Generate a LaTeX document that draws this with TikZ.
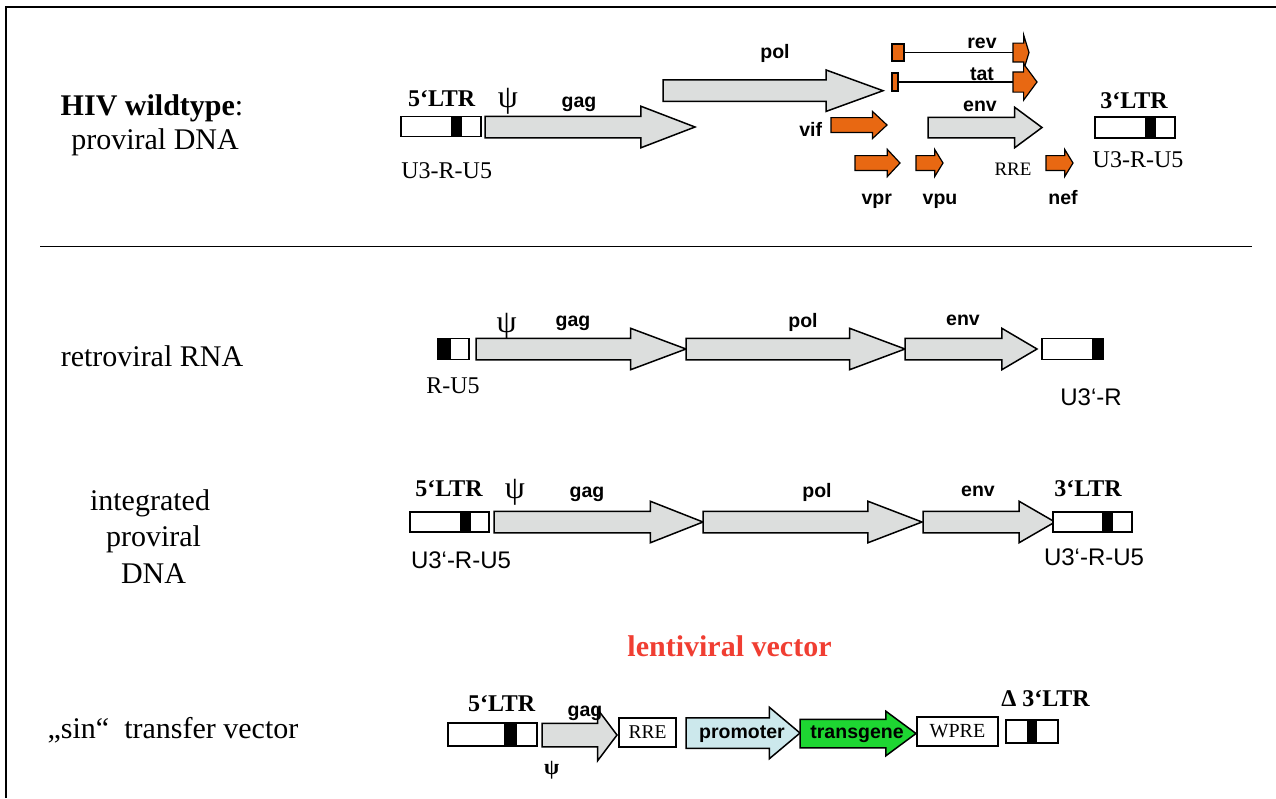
\documentclass[tikz,border=0pt]{standalone}
\usepackage{fontspec}
\setmainfont{Liberation Serif}
\setsansfont{Liberation Sans}
\usetikzlibrary{shapes.arrows}

\definecolor{genegray}{RGB}{220,222,221}
\definecolor{hivorange}{RGB}{232,104,18}
\definecolor{promblue}{RGB}{204,232,236}
\definecolor{transgreen}{RGB}{30,214,50}
\definecolor{vecred}{RGB}{240,62,50}

\begin{document}
\begin{tikzpicture}[x=1pt,y=-1pt]
    % gene map styles
    \tikzset{gene/.style = {shape=single arrow,draw,line width=1.5pt,fill=genegray,
        inner xsep=0pt,inner ysep=10pt,outer sep=0pt,anchor=tail,single arrow head extend=10pt}}
    \tikzset{orf/.style = {gene,fill=hivorange,line width=1.2pt,inner ysep=6.8pt,single arrow head extend=6.2pt}}
    \tikzset{exon/.style = {shape=rectangle,draw,line width=1.2pt,fill=hivorange,inner sep=0pt,outer sep=0pt}}
    \tikzset{ltr/.style = {shape=rectangle,draw,line width=1.5pt,fill=white,inner sep=0pt,outer sep=0pt,anchor=west}}
    \tikzset{rowtext/.style = {font=\fontsize{30}{34}\selectfont,anchor=base,inner sep=0pt}}
    \tikzset{genetext/.style = {font=\sffamily\bfseries\fontsize{19.5}{22}\selectfont,anchor=base,inner sep=0pt}}
    \tikzset{ltrtext/.style = {font=\bfseries\fontsize{24}{28}\selectfont,anchor=base,inner sep=0pt}}
    \tikzset{regtext/.style = {font=\fontsize{24}{28}\selectfont,anchor=base,inner sep=0pt}}
    \tikzset{regsans/.style = {font=\sffamily\fontsize{24}{28}\selectfont,anchor=base,inner sep=0pt}}
    \tikzset{psitext/.style = {font=\fontsize{32}{36}\selectfont,inner sep=0pt}}

    \useasboundingbox (0,0) rectangle (1276,798);
    \draw[line width=2pt] (6,798) -- (6,7) -- (1276,7);

    % HIV wildtype
    \node[rowtext] (wt1) at (152,115) {\textbf{HIV wildtype}:};
    \node[rowtext] (wt2) at (155,149) {proviral DNA};

    \node[ltr,minimum width=80pt,minimum height=20pt] (ltrA) at (401,126.5) {};
    \fill ([xshift=50pt]ltrA.north west) rectangle ([xshift=61pt]ltrA.south west);
    \node[ltrtext] (ltrAt) at (441.7,106) {5‘LTR};
    \node[regtext] (ltrAu) at (446.7,178.3) {U3-R-U5};
    \node[psitext] (psiA) at (508,101.7) {ψ};

    \node[gene,minimum height=210pt,single arrow tip angle=42] (gagA) at (485,127) {};
    \node[genetext] (gagAt) at (579,107) {gag};
    \node[gene,minimum height=220pt,single arrow tip angle=40] (polA) at (663,90.7) {};
    \node[genetext] (polAt) at (775,58.3) {pol};
    \node[gene,minimum height=114pt,inner ysep=9.5pt,single arrow tip angle=73] (envA) at (928,127.5) {};
    \node[genetext] (envAt) at (980,111.7) {env};

    % rev and tat
    \node[exon,minimum width=12pt,minimum height=17pt] (revA) at (898,52.5) {};
    \node[orf,minimum height=16pt,inner ysep=8.8pt,single arrow head extend=7.6pt,
        single arrow tip angle=146] (revB) at (1013,52.5) {};
    \draw[line width=1.2pt] (revA) -- (revB);
    \node[genetext] (revt) at (982,48.3) {rev};
    \node[exon,minimum width=6pt,minimum height=18pt] (tatA) at (895,82) {};
    \node[orf,minimum height=24pt,inner ysep=9.5pt,single arrow head extend=8pt,
        single arrow tip angle=107] (tatB) at (1013,82) {};
    \draw[line width=1.2pt] (tatA) -- (tatB);
    \node[genetext] (tatt) at (982,80) {tat};

    % accessory genes
    \node[orf,minimum height=56pt,single arrow tip angle=86] (vif) at (831,125) {};
    \node[genetext] (vift) at (810.7,136.7) {vif};
    \node[orf,minimum height=45pt,single arrow tip angle=94] (vpr) at (855,163) {};
    \node[genetext] (vprt) at (876.7,204) {vpr};
    \node[orf,minimum height=27pt,single arrow tip angle=117] (vpu) at (916,163) {};
    \node[genetext] (vput) at (940,204) {vpu};
    \node[orf,minimum height=27pt,single arrow tip angle=117] (nef) at (1046,163) {};
    \node[genetext] (neft) at (1063,204) {nef};
    \node[font=\fontsize{19}{22}\selectfont,anchor=base,inner sep=0pt] (rreAt) at (1013,175) {RRE};

    \node[ltr,minimum width=80pt,minimum height=21pt] (ltrB) at (1095,127.5) {};
    \fill ([xshift=50pt]ltrB.north west) rectangle ([xshift=61pt]ltrB.south west);
    \node[ltrtext] (ltrBt) at (1134,108.3) {3‘LTR};
    \node[regtext] (ltrBu) at (1138,167.3) {U3-R-U5};

    \draw[line width=1.5pt] (40,246.5) -- (1252,246.5);

    % retroviral RNA
    \node[rowtext] (rna) at (152,366.7) {retroviral RNA};
    \node[ltr,minimum width=31pt,minimum height=21pt] (ruA) at (438,349) {};
    \fill (ruA.north west) rectangle ([xshift=13pt]ruA.south west);
    \node[regtext] (ruAt) at (453,393.3) {R-U5};
    \node[gene,minimum height=210pt,single arrow tip angle=41] (gagB) at (476,349) {};
    \node[psitext,anchor=south] (psiB) at (506.7,339.5) {ψ};
    \node[genetext] (gagBt) at (573,326.7) {gag};
    \node[gene,minimum height=219pt,single arrow tip angle=41] (polB) at (686,349) {};
    \node[genetext] (polBt) at (803,327) {pol};
    \node[gene,minimum height=132pt,single arrow tip angle=61] (envB) at (905,349) {};
    \node[genetext] (envBt) at (963,325) {env};
    \node[ltr,minimum width=61pt,minimum height=21pt] (u3rA) at (1042,349) {};
    \fill ([xshift=-11pt]u3rA.north east) rectangle (u3rA.south east);
    \node[regsans] (u3rAt) at (1091,405) {U3‘-R};

    % integrated provirus
    \node[rowtext] (int1) at (150,510) {integrated};
    \node[rowtext] (int2) at (153.5,546.7) {proviral};
    \node[rowtext] (int3) at (153.5,583) {DNA};
    \node[ltr,minimum width=79pt,minimum height=20pt] (ltrC) at (410,522) {};
    \fill ([xshift=50pt]ltrC.north west) rectangle ([xshift=61pt]ltrC.south west);
    \node[ltrtext] (ltrCt) at (449,496.7) {5‘LTR};
    \node[regsans] (ltrCu) at (461,568.3) {U3‘-R-U5};
    \node[psitext] (psiC) at (515,492) {ψ};
    \node[gene,minimum height=209pt,single arrow tip angle=43] (gagC) at (494,522) {};
    \node[genetext] (gagCt) at (587,497) {gag};
    \node[gene,minimum height=219pt,single arrow tip angle=42] (polC) at (703,522) {};
    \node[genetext] (polCt) at (817,497) {pol};
    \node[gene,minimum height=132pt,single arrow tip angle=60] (envC) at (923,522) {};
    \node[genetext] (envCt) at (978,496.7) {env};
    \node[ltr,minimum width=79pt,minimum height=20pt] (ltrD) at (1053,522) {};
    \fill ([xshift=49pt]ltrD.north west) rectangle ([xshift=60pt]ltrD.south west);
    \node[ltrtext] (ltrDt) at (1088,496.7) {3‘LTR};
    \node[regsans] (ltrDu) at (1094,565) {U3‘-R-U5};

    % lentiviral vector
    \node[font=\bfseries\fontsize{30}{34}\selectfont,text=vecred,anchor=base,inner sep=0pt] (lv) at (729.5,656.7) {lentiviral vector};
    \node[rowtext] (sin) at (173,738) {„sin“\ \ transfer vector};
    \node[ltr,minimum width=89pt,minimum height=23pt] (ltrE) at (448,734.5) {};
    \fill ([xshift=56pt]ltrE.north west) rectangle ([xshift=69pt]ltrE.south west);
    \node[ltrtext] (ltrEt) at (501.7,711.7) {5‘LTR};
    \node[gene,minimum height=75pt,inner ysep=11pt,single arrow head extend=14pt,
        single arrow tip angle=106] (gagD) at (542,735) {};
    \node[genetext] (gagDt) at (585,716.7) {gag};
    \node[psitext,font=\bfseries\fontsize{22}{26}\selectfont] (psiD) at (551.7,770) {ψ};
    \node[ltr,minimum width=57pt,minimum height=29pt,font=\fontsize{19.5}{22}\selectfont] (rreB) at (619,732.5) {RRE};
    \node[gene,fill=promblue,minimum height=114pt,inner ysep=14.5pt,single arrow head extend=10.5pt,
        single arrow tip angle=80] (prom) at (686,733) {};
    \node[genetext] (promt) at (742,738) {promoter};
    \node[gene,fill=transgreen,minimum height=116pt,inner ysep=13.5pt,single arrow head extend=8pt,
        single arrow tip angle=73] (trans) at (800,733.5) {};
    \node[genetext] (transt) at (857,738) {transgene};
    \node[ltr,minimum width=81pt,minimum height=29pt,font=\fontsize{20}{24}\selectfont] (wpre) at (917,731.5) {WPRE};
    \node[ltr,minimum width=52pt,minimum height=23pt] (ltrF) at (1006,731.7) {};
    \fill ([xshift=21pt]ltrF.north west) rectangle ([xshift=31pt]ltrF.south west);
    \node[ltrtext] (ltrFt) at (1045.5,706.7) {Δ 3‘LTR};
\end{tikzpicture}
\end{document}
